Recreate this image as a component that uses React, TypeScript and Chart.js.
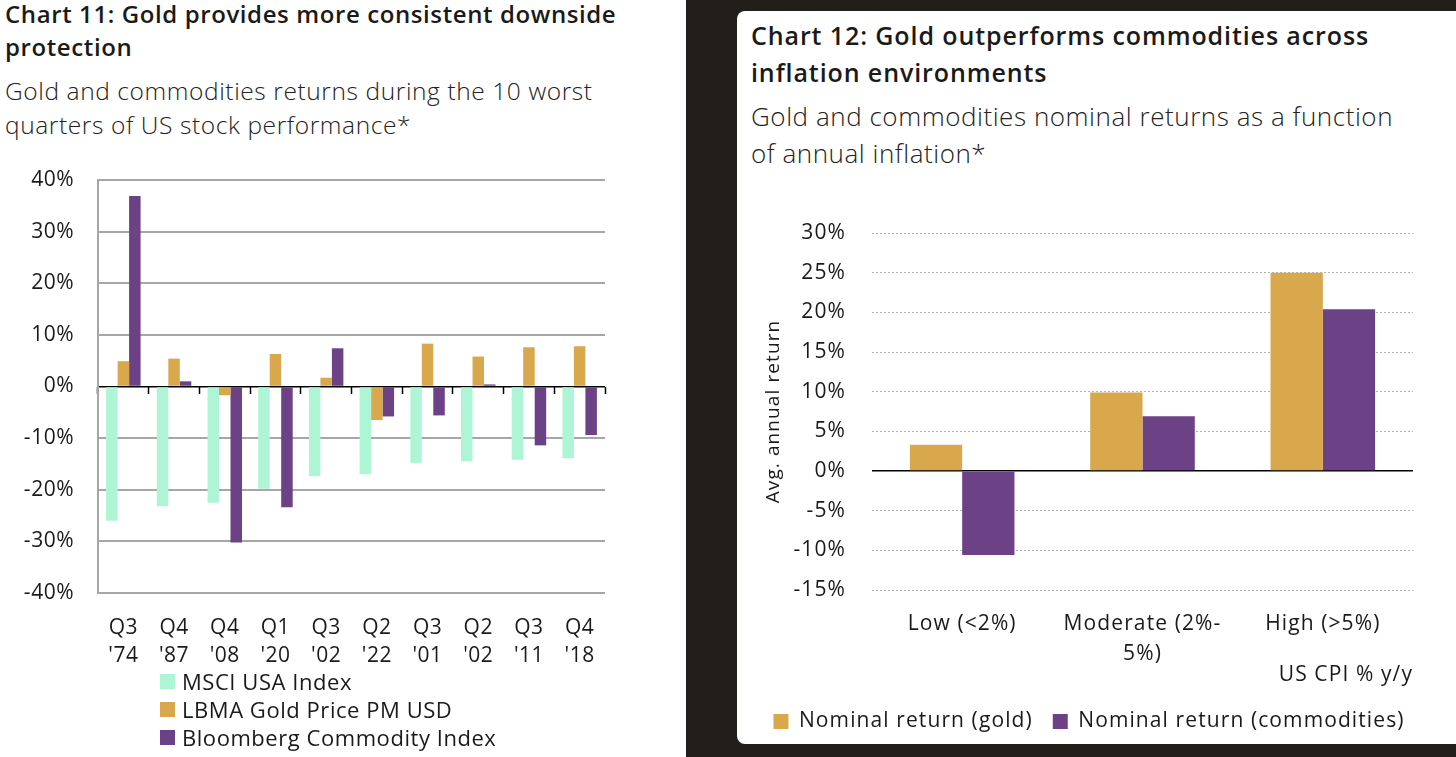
import React, { useEffect, useRef } from "react";
import { Chart, registerables } from "chart.js";

Chart.register(...registerables);

// ---------- Data: Chart 11 ----------
const leftCategories = [
  ["Q3", "'74"],
  ["Q4", "'87"],
  ["Q4", "'08"],
  ["Q1", "'20"],
  ["Q3", "'02"],
  ["Q2", "'22"],
  ["Q3", "'01"],
  ["Q2", "'02"],
  ["Q3", "'11"],
  ["Q4", "'18"],
];
const msciValues = [-26.0, -23.2, -22.5, -19.8, -17.4, -17.0, -14.8, -14.5, -14.2, -13.9];
const lbmaGoldValues = [4.9, 5.4, -1.7, 6.3, 1.7, -6.5, 8.3, 5.8, 7.6, 7.8];
const bloombergValues = [36.9, 1.0, -30.2, -23.4, 7.4, -5.8, -5.6, 0.4, -11.4, -9.4];
const leftSeriesNames = ["MSCI USA Index", "LBMA Gold Price PM USD", "Bloomberg Commodity Index"];
const leftAxisMin = -40;
const leftAxisMax = 40;
const leftAxisStep = 10;

// ---------- Data: Chart 12 ----------
const rightCategories = ["Low (<2%)", ["Moderate (2%-", "5%)"], "High (>5%)"];
const goldNominalValues = [3.3, 9.9, 25.0];
const commoditiesNominalValues = [-10.6, 6.9, 20.4];
const rightSeriesNames = ["Nominal return (gold)", "Nominal return (commodities)"];
const rightAxisMin = -15;
const rightAxisMax = 30;
const rightAxisStep = 5;
const rightYTitle = "Avg. annual return";
const rightXTitle = "US CPI % y/y";

// ---------- Styles ----------
const MINT = "#aef5d5";
const GOLD = "#d9a84c";
const PURPLE = "#6d4186";
const TEXT = "#1a1a1a";
const FONT = "'Open Sans', 'Noto Sans', 'DejaVu Sans', sans-serif";
const leftColors = [MINT, GOLD, PURPLE];
const rightColors = [GOLD, PURPLE];

const spacingPlugin = (px: number) => ({
  id: "letterSpacing",
  beforeUpdate(chart: any) {
    if ("letterSpacing" in chart.ctx) chart.ctx.letterSpacing = `${px}px`;
  },
  beforeDraw(chart: any) {
    if ("letterSpacing" in chart.ctx) chart.ctx.letterSpacing = `${px}px`;
  },
});

const legendShiftPlugin = (dx: number) => ({
  id: "legendShift",
  afterLayout(chart: any) {
    const l = chart.legend;
    if (l) {
      l.left += dx;
      l.right += dx;
    }
  },
});

export default function App() {
  const leftRef = useRef<HTMLCanvasElement>(null);
  const rightRef = useRef<HTMLCanvasElement>(null);

  useEffect(() => {
    Chart.defaults.font.family = FONT;
    Chart.defaults.color = TEXT;

    const leftSeries = [msciValues, lbmaGoldValues, bloombergValues];
    const left = new Chart(leftRef.current as HTMLCanvasElement, {
      type: "bar",
      data: {
        labels: leftCategories,
        datasets: leftSeries.map((vals, i) => ({
          label: leftSeriesNames[i],
          data: vals,
          backgroundColor: leftColors[i],
          borderWidth: 0,
          categoryPercentage: 0.68,
          barPercentage: 1.0,
        })),
      },
      plugins: [spacingPlugin(0.5)],
      options: {
        animation: false,
        responsive: true,
        maintainAspectRatio: false,
        layout: { padding: { top: 30, left: 0, right: 81, bottom: 0 } },
        plugins: { legend: { display: false }, tooltip: { enabled: false } },
        scales: {
          x: {
            type: "category",
            position: "bottom",
            grid: { display: false, drawTicks: false },
            border: { display: false },
            ticks: {
              padding: 21,
              maxRotation: 0,
              autoSkip: false,
              color: TEXT,
              font: { size: 21, lineHeight: 1.333 },
            },
            afterFit: (s: any) => {
              s.height = 77;
            },
          },
          x2: {
            type: "category",
            axis: "x",
            position: { y: 0 } as any,
            offset: true,
            grid: {
              offset: true,
              drawOnChartArea: false,
              drawTicks: true,
              tickLength: 7,
              tickColor: "#000",
              tickWidth: 1.5,
            },
            border: { display: false },
            ticks: { display: false },
          },
          y: {
            min: leftAxisMin,
            max: leftAxisMax,
            ticks: {
              stepSize: leftAxisStep,
              padding: 24,
              color: TEXT,
              font: { size: 21 },
              callback: (v: any) => `${v}%`,
            },
            grid: {
              drawTicks: false,
              color: (c: any) => (c.tick && c.tick.value === 0 ? "#000" : "#a6a6a6"),
              lineWidth: (c: any) => (c.tick && c.tick.value === 0 ? 1.5 : 2),
            },
            border: { display: true, color: "#a6a6a6", width: 2 },
            afterFit: (s: any) => {
              s.width = 98;
              s.paddingTop = 0;
              s.paddingBottom = 0;
            },
          },
        },
      },
    });

    const rightSeries = [goldNominalValues, commoditiesNominalValues];
    const right = new Chart(rightRef.current as HTMLCanvasElement, {
      type: "bar",
      data: {
        labels: rightCategories,
        datasets: rightSeries.map((vals, i) => ({
          label: rightSeriesNames[i],
          data: vals,
          backgroundColor: rightColors[i],
          borderWidth: 0,
          categoryPercentage: 0.58,
          barPercentage: 1.0,
        })),
      },
      plugins: [spacingPlugin(1.1), legendShiftPlugin(14)],
      options: {
        animation: false,
        responsive: true,
        maintainAspectRatio: false,
        layout: { padding: { top: 43, left: 0, right: 43, bottom: 2 } },
        plugins: {
          tooltip: { enabled: false },
          legend: {
            display: true,
            position: "bottom",
            labels: {
              boxWidth: 15,
              boxHeight: 15,
              padding: 20,
              color: TEXT,
              font: { size: 21 },
            },
          },
        },
        scales: {
          x: {
            grid: { display: false, drawTicks: false },
            border: { display: false },
            ticks: {
              padding: 19,
              maxRotation: 0,
              autoSkip: false,
              color: TEXT,
              font: { size: 21, lineHeight: 1.43 },
            },
            title: {
              display: true,
              text: rightXTitle,
              align: "end",
              color: TEXT,
              font: { size: 21 },
              padding: { top: 0, bottom: 3 },
            },
            afterFit: (s: any) => {
              s.height = 101;
            },
          },
          y: {
            min: rightAxisMin,
            max: rightAxisMax,
            ticks: {
              stepSize: rightAxisStep,
              padding: 26,
              color: TEXT,
              font: { size: 21 },
              callback: (v: any) => `${v}%`,
            },
            grid: {
              drawTicks: false,
              color: (c: any) => (c.tick && c.tick.value === 0 ? "#000" : "#b3b3b3"),
              lineWidth: (c: any) => (c.tick && c.tick.value === 0 ? 1.5 : 1),
            },
            border: {
              display: false,
              dash: (c: any) => (c.tick && c.tick.value === 0 ? [] : [2, 2]),
            },
            title: {
              display: true,
              text: rightYTitle,
              color: TEXT,
              font: { size: 19 },
              padding: { top: 25, bottom: 0 },
            },
            afterFit: (s: any) => {
              s.width = 135;
            },
          },
        },
      },
    });

    return () => {
      left.destroy();
      right.destroy();
    };
  }, []);

  const abs = (l: number, t: number, w: number, h: number): React.CSSProperties => ({
    position: "absolute",
    left: l,
    top: t,
    width: w,
    height: h,
  });

  return (
    <div
      style={{
        position: "absolute",
        left: 0,
        top: 0,
        width: 1456,
        height: 757,
        overflow: "hidden",
        background: "#ffffff",
        fontFamily: FONT,
        color: TEXT,
      }}
    >
      {/* Left panel: Chart 11 */}
      <div
        style={{
          position: "absolute",
          left: 5,
          top: -3,
          fontSize: 24,
          lineHeight: "33px",
          fontWeight: 600,
          letterSpacing: "0.6px",
          whiteSpace: "nowrap",
        }}
      >
        Chart 11: Gold provides more consistent downside
        <br />
        protection
      </div>
      <div
        style={{
          position: "absolute",
          left: 5,
          top: 74,
          fontSize: 24.5,
          lineHeight: "34px",
          fontWeight: 300,
          letterSpacing: "0.6px",
          whiteSpace: "nowrap",
          color: "#222",
        }}
      >
        Gold and commodities returns during the 10 worst
        <br />
        quarters of US stock performance*
      </div>
      <div style={abs(0, 150, 686, 520)}>
        <canvas ref={leftRef} />
      </div>
      <div style={{ position: "absolute", left: 160, top: 667 }}>
        {leftSeriesNames.map((name, i) => (
          <div
            key={name}
            style={{
              display: "flex",
              alignItems: "center",
              height: 28,
              fontSize: 22,
              letterSpacing: "0.55px",
              whiteSpace: "nowrap",
            }}
          >
            <span
              style={{
                display: "inline-block",
                width: 15,
                height: 15,
                background: leftColors[i],
                marginRight: 7,
                flex: "none",
              }}
            />
            <span>{name}</span>
          </div>
        ))}
      </div>

      {/* Dark backdrop and right card */}
      <div style={{ ...abs(686, 0, 770, 757), background: "#221e1a" }} />
      <div
        style={{
          ...abs(737, 11, 740, 733),
          background: "#ffffff",
          borderRadius: 8,
        }}
      />
      <div
        style={{
          position: "absolute",
          left: 751,
          top: 17,
          fontSize: 25,
          lineHeight: "36.5px",
          fontWeight: 600,
          letterSpacing: "0.9px",
          whiteSpace: "nowrap",
        }}
      >
        Chart 12: Gold outperforms commodities across
        <br />
        inflation environments
      </div>
      <div
        style={{
          position: "absolute",
          left: 751,
          top: 98,
          fontSize: 26,
          lineHeight: "37px",
          fontWeight: 300,
          letterSpacing: "0.55px",
          whiteSpace: "nowrap",
          color: "#222",
        }}
      >
        Gold and commodities nominal returns as a function
        <br />
        of annual inflation*
      </div>
      <div style={abs(737, 190, 719, 554)}>
        <canvas ref={rightRef} />
      </div>
    </div>
  );
}
